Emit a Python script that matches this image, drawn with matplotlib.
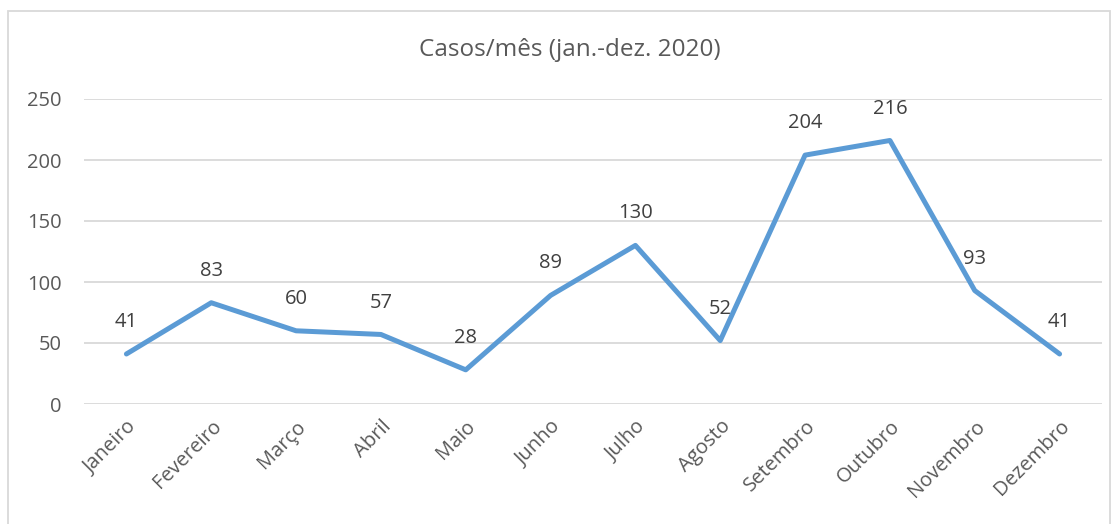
import matplotlib.pyplot as plt
from matplotlib.patches import Rectangle

meses = ["Janeiro", "Fevereiro", "Março", "Abril", "Maio", "Junho",
         "Julho", "Agosto", "Setembro", "Outubro", "Novembro", "Dezembro"]
casos = [41, 83, 60, 57, 28, 89, 130, 52, 204, 216, 93, 41]
yticks = [0, 50, 100, 150, 200, 250]

plt.rcParams['font.family'] = ['Open Sans', 'DejaVu Sans']
txt = '#595959'

fig = plt.figure(figsize=(11.18, 5.24), dpi=100)
ax = fig.add_axes([84 / 1118, 1 - 404 / 524, (1102 - 84) / 1118, (404 - 99) / 524])

x = list(range(len(meses)))
ax.plot(x, casos, color='#5B9BD5', lw=3.6, solid_capstyle='round',
        solid_joinstyle='round', zorder=3)
for xi, v in zip(x, casos):
    ax.annotate(str(v), (xi, v), xytext=(0, 23), textcoords='offset points',
                ha='center', va='center', fontsize=14.5, color='#404040')

ax.set_xlim(-0.5, len(meses) - 0.5)
ax.set_ylim(0, 250)
ax.set_yticks(yticks)
ax.set_xticks(x)
ax.set_xticklabels(meses, rotation=45, ha='right', rotation_mode='anchor')
ax.tick_params(axis='both', length=0, labelsize=14.5, colors=txt)
ax.tick_params(axis='x', pad=9)
ax.tick_params(axis='y', pad=16)
ax.grid(axis='y', color='#D9D9D9', lw=1.3)
ax.set_axisbelow(True)
for s in ax.spines.values():
    s.set_visible(False)

fig.text(570 / 1118, 1 - 50 / 524, "Casos/mês (jan.-dez. 2020)", ha='center',
         va='center', fontsize=17.5, color=txt)

fig.patches.append(Rectangle((8 / 1118, -0.05), (1110 - 8) / 1118, 1.05 - 11 / 524,
                             transform=fig.transFigure, fill=False,
                             edgecolor='#D9D9D9', lw=1.3))

fig.savefig("out.png", dpi=100)
